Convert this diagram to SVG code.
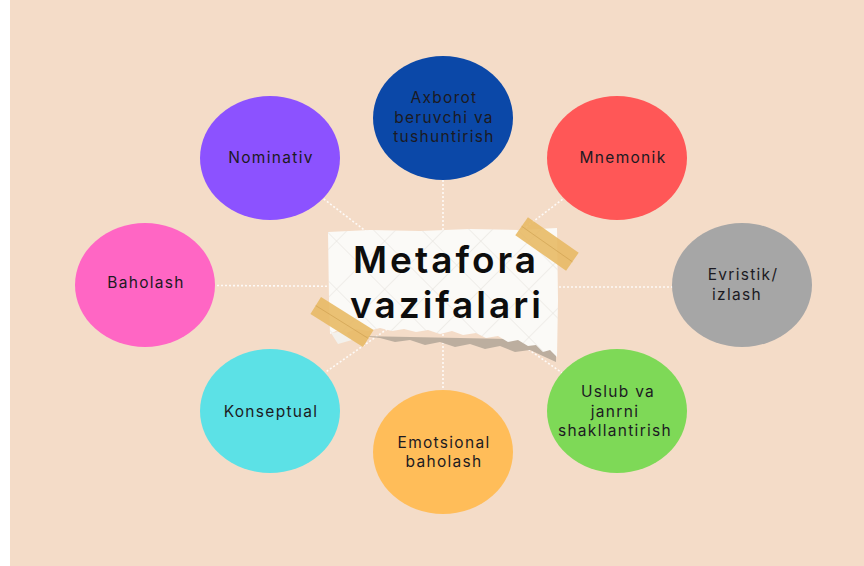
<svg xmlns="http://www.w3.org/2000/svg" width="864" height="566" viewBox="0 0 864 566">
<defs>
<style>
.bg{fill:#f4dcc8}
.lbl{font-family:Inter,"Noto Sans","Liberation Sans",sans-serif;font-size:15.5px;letter-spacing:1.3px;fill:#1c1a22;text-anchor:middle}
.title{font-family:Inter,"Noto Sans","Liberation Sans",sans-serif;font-size:37px;font-weight:600;letter-spacing:3px;fill:#0d0d0d;text-anchor:middle}
.con{stroke:#ffffff;stroke-width:1.6;stroke-dasharray:2 2;fill:none;opacity:0.85}
.tape{fill:#e7b862;opacity:0.88}
.tapeline{stroke:#c99a48;stroke-width:0.8;opacity:0.6}
</style>
<pattern id="grid" width="34" height="34" patternUnits="userSpaceOnUse" patternTransform="rotate(45)">
<path d="M0 0H34M0 0V34" stroke="#d9d6d0" stroke-width="1" fill="none"/>
</pattern>
</defs>
<rect x="0" y="0" width="864" height="566" fill="#ffffff"/>
<rect class="bg" x="10" y="0" width="854" height="566"/>

<g id="connectors">
<line class="con" x1="443" y1="290" x2="443" y2="118"/>
<line class="con" x1="443" y1="290" x2="270" y2="158"/>
<line class="con" x1="443" y1="290" x2="617" y2="158"/>
<line class="con" x1="443" y1="287" x2="145" y2="285"/>
<line class="con" x1="443" y1="287" x2="742" y2="287"/>
<line class="con" x1="443" y1="290" x2="270" y2="411"/>
<line class="con" x1="443" y1="290" x2="443" y2="452"/>
<line class="con" x1="443" y1="290" x2="617" y2="411"/>
</g>

<g id="center">
<path d="M360,336 L380,338 L395,342 L410,340 L425,345 L440,342 L455,347 L470,344 L485,349 L500,346 L515,352 L530,350 L545,357 L556,362 L556,340 Z" fill="#bcae9f"/>
<path d="M328,232 L370,230 L420,231 L470,229 L520,230 L557,228 L558,300 L557,357 L550,350 L543,352 L536,345 L528,346 L518,340 L508,342 L498,336 L486,338 L476,333 L463,335 L452,331 L440,334 L428,330 L416,332 L404,329 L392,331 L380,328 L368,331 L356,329 L346,333 L336,331 L330,334 L329,300 Z" fill="#fbfaf7"/>
<path d="M328,232 L370,230 L420,231 L470,229 L520,230 L557,228 L558,300 L557,357 L550,350 L543,352 L536,345 L528,346 L518,340 L508,342 L498,336 L486,338 L476,333 L463,335 L452,331 L440,334 L428,330 L416,332 L404,329 L392,331 L380,328 L368,331 L356,329 L346,333 L336,331 L330,334 L329,300 Z" fill="url(#grid)" opacity="0.7"/>
<path d="M331,333 L345,331 L352,340 L338,344 Z" fill="#f3f1ec"/>
<g transform="translate(547,244) rotate(35)">
<rect class="tape" x="-31" y="-11" width="62" height="22"/>
<line class="tapeline" x1="-31" y1="0" x2="31" y2="0"/>
</g>
<g transform="translate(342,322) rotate(32)">
<rect class="tape" x="-31" y="-10" width="62" height="20"/>
<line class="tapeline" x1="-31" y1="0" x2="31" y2="0"/>
</g>
<text class="title" x="446" y="273">Metafora</text>
<text class="title" x="447" y="318">vazifalari</text>
</g>

<g id="n-axborot">
<ellipse cx="443" cy="118" rx="70" ry="62" fill="#0b48a8"/>
<text class="lbl" x="444" y="103">Axborot</text>
<text class="lbl" x="444" y="123">beruvchi va</text>
<text class="lbl" x="444" y="142">tushuntirish</text>
</g>
<g id="n-nominativ">
<ellipse cx="270" cy="158" rx="70" ry="62" fill="#8c52ff"/>
<text class="lbl" x="271" y="163">Nominativ</text>
</g>
<g id="n-mnemonik">
<ellipse cx="617" cy="158" rx="70" ry="62" fill="#ff5757"/>
<text class="lbl" x="623" y="163">Mnemonik</text>
</g>
<g id="n-baholash">
<ellipse cx="145" cy="285" rx="70" ry="62" fill="#ff66c4"/>
<text class="lbl" x="146" y="288">Baholash</text>
</g>
<g id="n-evristik">
<ellipse cx="742" cy="285" rx="70" ry="62" fill="#a6a6a6"/>
<text class="lbl" x="743" y="280">Evristik/</text>
<text class="lbl" x="737" y="300">izlash</text>
</g>
<g id="n-konseptual">
<ellipse cx="270" cy="411" rx="70" ry="62" fill="#5ce1e6"/>
<text class="lbl" x="271" y="417">Konseptual</text>
</g>
<g id="n-emotsional">
<ellipse cx="443" cy="452" rx="70" ry="62" fill="#ffbd59"/>
<text class="lbl" x="444" y="448">Emotsional</text>
<text class="lbl" x="444" y="467">baholash</text>
</g>
<g id="n-uslub">
<ellipse cx="617" cy="411" rx="70" ry="62" fill="#7ed957"/>
<text class="lbl" x="618" y="397">Uslub va</text>
<text class="lbl" x="615" y="417">janrni</text>
<text class="lbl" x="615" y="436">shakllantirish</text>
</g>
</svg>
